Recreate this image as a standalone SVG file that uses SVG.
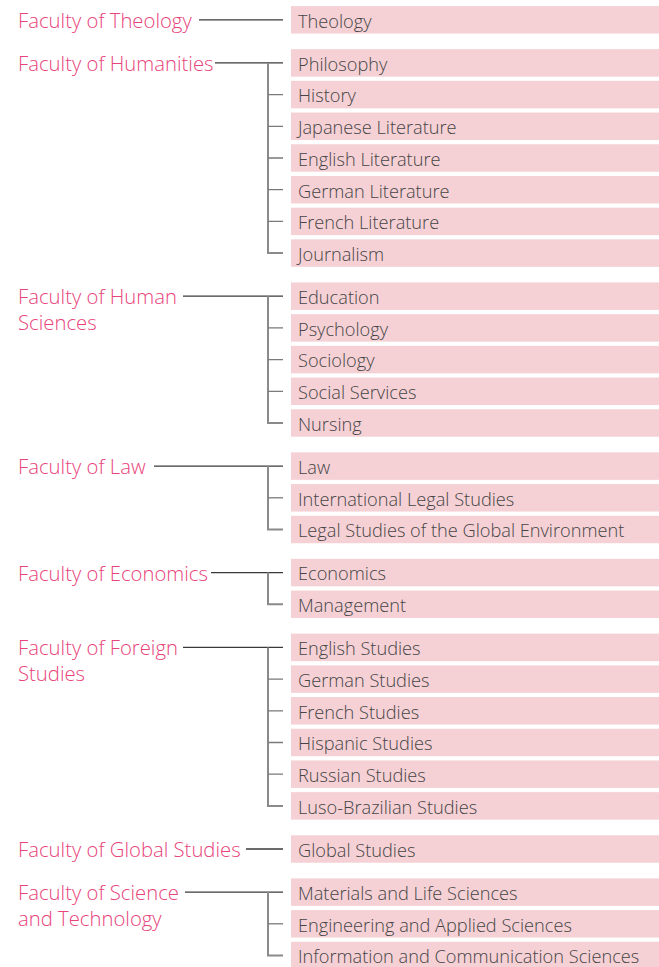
<svg xmlns="http://www.w3.org/2000/svg" width="659" height="967" viewBox="0 0 659 967">
<style>
.bg{fill:#ffffff}
.box{fill:#f5d1d6}
.dept{font-family:"Open Sans","Noto Sans",sans-serif;font-size:18.2px;font-weight:300;fill:#454545}
.fac{font-family:"Open Sans","Noto Sans",sans-serif;font-size:20.3px;font-weight:300;fill:#e8437a}
.main{stroke:#3a3a3a;stroke-width:1.3;fill:none}
.tick{stroke:#7a7a7a;stroke-width:1.3;fill:none}
.spine{stroke:#8a8a8a;stroke-width:2;fill:none}
</style>
<rect class="bg" x="0" y="0" width="659" height="967"/>
<g id="connectors">
<line class="main" x1="199" y1="19.8" x2="283" y2="19.8"/>
<line class="main" x1="215" y1="62.9" x2="283" y2="62.9"/>
<path class="spine" d="M268 62.9V253.1H283"/>
<path class="tick" d="M268 94.6H283M268 126.3H283M268 158H283M268 189.7H283M268 221.4H283"/>
<line class="main" x1="183" y1="296.2" x2="283" y2="296.2"/>
<path class="spine" d="M268 296.2V423H283"/>
<path class="tick" d="M268 327.9H283M268 359.6H283M268 391.3H283"/>
<line class="main" x1="154" y1="466.1" x2="283" y2="466.1"/>
<path class="spine" d="M268 466.1V529.5H283"/>
<path class="tick" d="M268 497.8H283"/>
<line class="main" x1="211" y1="572.6" x2="283" y2="572.6"/>
<path class="spine" d="M268 572.6V604.3H283"/>
<line class="main" x1="183" y1="647.4" x2="283" y2="647.4"/>
<path class="spine" d="M268 647.4V805.9H283"/>
<path class="tick" d="M268 679.1H283M268 710.8H283M268 742.5H283M268 774.2H283"/>
<line class="main" x1="246" y1="849" x2="283" y2="849"/>
<line class="main" x1="185" y1="892.1" x2="283" y2="892.1"/>
<path class="spine" d="M268 892.1V955.5H283"/>
<path class="tick" d="M268 923.8H283"/>
</g>
<g id="fac-theology"><text class="fac" x="18" y="28">Faculty of Theology</text></g>
<g id="fac-humanities"><text class="fac" x="18" y="71.1">Faculty of Humanities</text></g>
<g id="fac-human-sciences"><text class="fac" x="18" y="304">Faculty of Human</text><text class="fac" x="18" y="330">Sciences</text></g>
<g id="fac-law"><text class="fac" x="18" y="474.3">Faculty of Law</text></g>
<g id="fac-economics"><text class="fac" x="18" y="580.8">Faculty of Economics</text></g>
<g id="fac-foreign"><text class="fac" x="18" y="655.2">Faculty of Foreign</text><text class="fac" x="18" y="681.2">Studies</text></g>
<g id="fac-global"><text class="fac" x="18" y="857.2">Faculty of Global Studies</text></g>
<g id="fac-science"><text class="fac" x="18" y="900.3">Faculty of Science</text><text class="fac" x="18" y="926.3">and Technology</text></g>
<g id="d-theology"><rect class="box" x="291" y="6.05" width="368" height="27.5"/><text class="dept" x="298" y="27.6">Theology</text></g>
<g id="d-philosophy"><rect class="box" x="291" y="49.15" width="368" height="27.5"/><text class="dept" x="298" y="70.7">Philosophy</text></g>
<g id="d-history"><rect class="box" x="291" y="80.85" width="368" height="27.5"/><text class="dept" x="298" y="102.4">History</text></g>
<g id="d-japanese"><rect class="box" x="291" y="112.55" width="368" height="27.5"/><text class="dept" x="298" y="134.1">Japanese Literature</text></g>
<g id="d-english-lit"><rect class="box" x="291" y="144.25" width="368" height="27.5"/><text class="dept" x="298" y="165.8">English Literature</text></g>
<g id="d-german-lit"><rect class="box" x="291" y="175.95" width="368" height="27.5"/><text class="dept" x="298" y="197.5">German Literature</text></g>
<g id="d-french-lit"><rect class="box" x="291" y="207.65" width="368" height="27.5"/><text class="dept" x="298" y="229.2">French Literature</text></g>
<g id="d-journalism"><rect class="box" x="291" y="239.35" width="368" height="27.5"/><text class="dept" x="298" y="260.9">Journalism</text></g>
<g id="d-education"><rect class="box" x="291" y="282.45" width="368" height="27.5"/><text class="dept" x="298" y="304">Education</text></g>
<g id="d-psychology"><rect class="box" x="291" y="314.15" width="368" height="27.5"/><text class="dept" x="298" y="335.7">Psychology</text></g>
<g id="d-sociology"><rect class="box" x="291" y="345.85" width="368" height="27.5"/><text class="dept" x="298" y="367.4">Sociology</text></g>
<g id="d-social-services"><rect class="box" x="291" y="377.55" width="368" height="27.5"/><text class="dept" x="298" y="399.1">Social Services</text></g>
<g id="d-nursing"><rect class="box" x="291" y="409.25" width="368" height="27.5"/><text class="dept" x="298" y="430.8">Nursing</text></g>
<g id="d-law"><rect class="box" x="291" y="452.35" width="368" height="27.5"/><text class="dept" x="298" y="473.9">Law</text></g>
<g id="d-intl-legal"><rect class="box" x="291" y="484.05" width="368" height="27.5"/><text class="dept" x="298" y="505.6">International Legal Studies</text></g>
<g id="d-legal-global"><rect class="box" x="291" y="515.75" width="368" height="27.5"/><text class="dept" x="298" y="537.3">Legal Studies of the Global Environment</text></g>
<g id="d-economics"><rect class="box" x="291" y="558.85" width="368" height="27.5"/><text class="dept" x="298" y="580.4">Economics</text></g>
<g id="d-management"><rect class="box" x="291" y="590.55" width="368" height="27.5"/><text class="dept" x="298" y="612.1">Management</text></g>
<g id="d-english-st"><rect class="box" x="291" y="633.65" width="368" height="27.5"/><text class="dept" x="298" y="655.2">English Studies</text></g>
<g id="d-german-st"><rect class="box" x="291" y="665.35" width="368" height="27.5"/><text class="dept" x="298" y="686.9">German Studies</text></g>
<g id="d-french-st"><rect class="box" x="291" y="697.05" width="368" height="27.5"/><text class="dept" x="298" y="718.6">French Studies</text></g>
<g id="d-hispanic"><rect class="box" x="291" y="728.75" width="368" height="27.5"/><text class="dept" x="298" y="750.3">Hispanic Studies</text></g>
<g id="d-russian"><rect class="box" x="291" y="760.45" width="368" height="27.5"/><text class="dept" x="298" y="782">Russian Studies</text></g>
<g id="d-luso"><rect class="box" x="291" y="792.15" width="368" height="27.5"/><text class="dept" x="298" y="813.7">Luso-Brazilian Studies</text></g>
<g id="d-global"><rect class="box" x="291" y="835.25" width="368" height="27.5"/><text class="dept" x="298" y="856.8">Global Studies</text></g>
<g id="d-materials"><rect class="box" x="291" y="878.35" width="368" height="27.5"/><text class="dept" x="298" y="899.9">Materials and Life Sciences</text></g>
<g id="d-engineering"><rect class="box" x="291" y="910.05" width="368" height="27.5"/><text class="dept" x="298" y="931.6">Engineering and Applied Sciences</text></g>
<g id="d-information"><rect class="box" x="291" y="941.75" width="368" height="27.5"/><text class="dept" x="298" y="963.3">Information and Communication Sciences</text></g>
</svg>
